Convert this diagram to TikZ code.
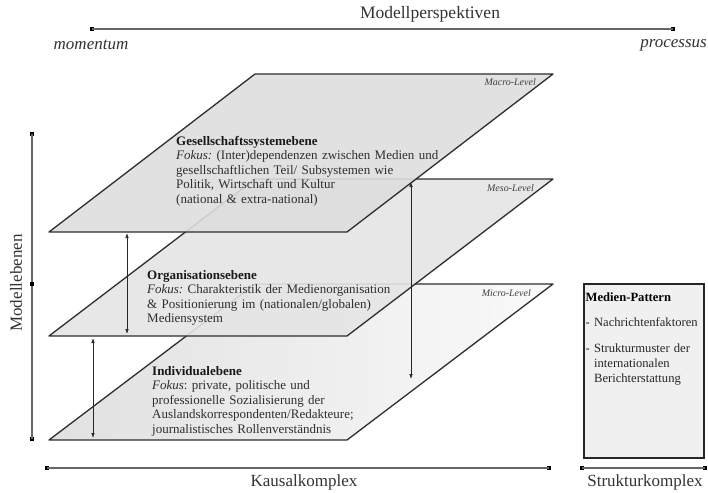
\documentclass[tikz,border=0pt]{standalone}
\usepackage{fontspec}
\setmainfont{Liberation Serif}
\usetikzlibrary{arrows.meta}
\frenchspacing
\hyphenpenalty=10000
\exhyphenpenalty=10000
\begin{document}
\begin{tikzpicture}[x=1pt,y=-1pt,
  plane/.style={draw=black!82, line width=1.3pt, line join=round, fill opacity=0.9},
  axis/.style={draw=black!60, line width=1.2pt, shorten <=-2pt, shorten >=-2pt},
  dot/.style={fill=black, rectangle, minimum size=3.6pt, inner sep=0pt},
  biarrow/.style={{Latex[length=5pt,width=3.6pt]}-{Latex[length=5pt,width=3.6pt]}, line width=0.7pt, draw=black!85},
  big/.style={font=\fontsize{17}{20}\selectfont, text=black!80, inner sep=0pt},
  lvl/.style={font=\fontsize{10}{11}\selectfont\itshape, text=black!75, anchor=base east, inner sep=0pt},
  body/.style={font=\fontsize{13}{14.5}\selectfont, text=black!82, anchor=base west, inner sep=0pt, align=left, text width=290pt},
  boxtext/.style={font=\fontsize{12.6}{14.8}\selectfont, text=black!85, anchor=base west, inner sep=0pt, align=left, text width=135pt},
]
\useasboundingbox[fill=white] (0,0) rectangle (708,492);

% ---------- top axis: Modellperspektiven
\node[dot] (t1) at (92,29) {};
\node[dot] (t2) at (673,29) {};
\draw[axis] (t1) -- (t2);
\node[big, font=\fontsize{17.5}{20}\selectfont] (title) at (430,14) {Modellperspektiven};
\node[big, font=\fontsize{17}{20}\selectfont\itshape] (mom) at (91,45) {momentum};
\node[big, font=\fontsize{17}{20}\selectfont\itshape, anchor=east] (proc) at (707,45) {processus};

% ---------- left axis: Modellebenen
\node[dot] (l1) at (32,134) {};
\node[dot] (l2) at (32,284) {};
\node[dot] (l3) at (32,439) {};
\draw[axis] (l1) -- (l3);
\node[dot] at (l2) {};
\node[big, rotate=90] (ylab) at (16,283) {Modellebenen};

% ---------- planes (bottom to top)
\path[plane, left color=black!13, right color=black!2] (49,440) -- (347,440) -- (553,284) -- (255,284) -- cycle;
\path[plane, fill=black!10] (49,336) -- (347,336) -- (553,179) -- (255,179) -- cycle;

% arrows between planes
\coordinate (a1t) at (127,233);
\coordinate (a1b) at (127,334);
\coordinate (a2t) at (93,338);
\coordinate (a2b) at (93,438);
\coordinate (a3t) at (411,182);
\coordinate (a3b) at (411,379);
\draw[biarrow] (a2t) -- (a2b);
\draw[biarrow] (a1t) -- (a1b);
\draw[biarrow] (a3t) -- (a3b);

\path[plane, fill=black!13] (49,232) -- (347,232) -- (553,74) -- (255,74) -- cycle;

% level labels
\node[lvl] (lmac) at (536,86) {Macro-Level};
\node[lvl] (lmes) at (534,191) {Meso-Level};
\node[lvl] (lmic) at (531,296) {Micro-Level};

% plane texts
\node[body] (macrotxt) at (176,145) {\textbf{\color{black!90}Gesellschaftssystemebene}\\
\textit{Fokus:} (Inter)dependenzen zwischen Medien und\\
gesellschaftlichen Teil/ Subsystemen wie\\
Politik, Wirtschaft und Kultur\\
(national \& extra-national)};

\node[body] (mesotxt) at (147,279) {\textbf{\color{black!90}Organisationsebene}\\
\textit{Fokus:} Charakteristik der Medienorganisation\\
\& Positionierung im (nationalen/globalen)\\
Mediensystem};

\node[body] (microtxt) at (152,375) {\textbf{\color{black!90}Individualebene}\\
\textit{Fokus}: private, politische und\\
professionelle Sozialisierung der\\
Auslandskorrespondenten/Redakteure;\\
journalistisches Rollenverständnis};

% ---------- Medien-Pattern box
\node[draw=black!85, line width=1.5pt, fill=black!6, rectangle, minimum width=120pt, minimum height=174pt, anchor=north west, inner sep=0pt] (pbox) at (583,283) {};
\node[boxtext] (ptxt) at (585.5,301) {\textbf{\color{black}Medien-Pattern}\\[11pt]
- Nachrichtenfaktoren\\[11pt]
- Strukturmuster der\\
\hphantom{-} internationalen\\
\hphantom{-} Berichterstattung};

% ---------- bottom axes
\node[dot] (k1) at (47,468) {};
\node[dot] (k2) at (549,468) {};
\draw[axis] (k1) -- (k2);
\node[big] (kaus) at (304,482) {Kausalkomplex};
\node[dot] (s1) at (582,468) {};
\node[dot] (s2) at (705,468) {};
\draw[axis] (s1) -- (s2);
\node[big] (strukt) at (645,482) {Strukturkomplex};
\end{tikzpicture}
\end{document}
